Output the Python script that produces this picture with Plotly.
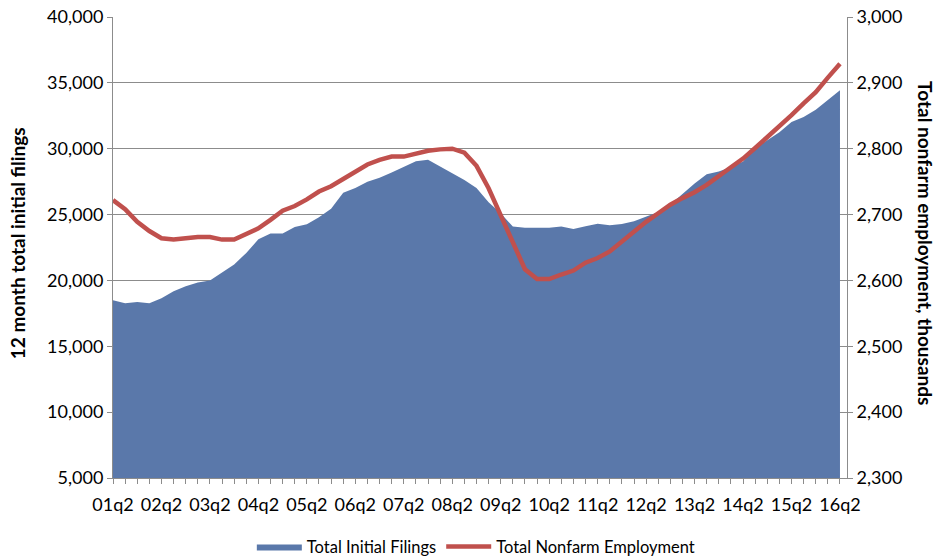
import plotly.graph_objects as go

# Quarters 01q2 .. 16q2
quarters = []
y, q = 1, 2
while (y, q) <= (16, 2):
    quarters.append(f"{y:02d}q{q}")
    q += 1
    if q > 4:
        q = 1
        y += 1

initial_filings = [
    18490, 18260, 18360, 18260, 18640, 19170, 19550, 19850, 20000, 20580,
    21210, 22090, 23130, 23560, 23560, 24060, 24260, 24800, 25440, 26650,
    27010, 27500, 27800, 28200, 28590, 29040, 29170, 28660, 28130, 27630,
    27020, 25930, 25100, 24090, 23990, 23990, 23990, 24090, 23910, 24120,
    24310, 24180, 24290, 24490, 24820, 25200, 25770, 26580, 27350, 28060,
    28270, 28620, 29030, 30030, 30660, 31250, 32020, 32400, 32960, 33670,
    34440,
]

nonfarm_employment = [
    2722, 2708, 2689, 2675, 2664, 2662, 2664, 2666, 2666, 2662,
    2662, 2670, 2679, 2692, 2706, 2713, 2723, 2735, 2743, 2754,
    2766, 2776, 2783, 2788, 2788, 2793, 2797, 2799, 2800, 2794,
    2774, 2740, 2698, 2656, 2617, 2602, 2602, 2609, 2615, 2627,
    2634, 2644, 2659, 2675, 2689, 2702, 2715, 2725, 2734, 2745,
    2758, 2772, 2785, 2801, 2817, 2835, 2851, 2869, 2886, 2908,
    2929,
]

tick_text = [qq if i % 4 == 0 else "" for i, qq in enumerate(quarters)]

left_title = "12 month total initial filings"
right_title = "Total nonfarm employment, thousands"

FONT = "Lato"
GRID = "#8c8c8c"

fig = go.Figure()
fig.add_trace(go.Scatter(
    x=quarters, y=initial_filings, name="Total Initial Filings",
    mode="lines", fill="tozeroy", line=dict(color="#5A78AA", width=0),
    fillcolor="#5A78AA", yaxis="y",
))
fig.add_trace(go.Scatter(
    x=quarters, y=nonfarm_employment, name="Total Nonfarm Employment",
    mode="lines", line=dict(color="#C0504D", width=4.5), yaxis="y2",
))

fig.update_layout(
    width=936, height=558,
    margin=dict(l=113, r=89, t=17, b=80, autoexpand=False),
    paper_bgcolor="white", plot_bgcolor="white",
    font=dict(family=FONT, size=18, color="black"),
    showlegend=True,
    legend=dict(
        orientation="h", x=0.495, xanchor="center", y=0.02, yanchor="middle",
        yref="container", font=dict(size=16.5, family=FONT), itemwidth=45,
        traceorder="normal",
    ),
    xaxis=dict(
        type="category", categoryorder="array", categoryarray=quarters,
        range=[0, 60.58], tickvals=quarters, ticktext=tick_text,
        ticks="outside", ticklen=5, tickcolor=GRID, showgrid=False,
        showline=True, linecolor=GRID, linewidth=1, zeroline=False,
        tickangle=0, ticklabelstandoff=5, tickfont=dict(size=18),
        automargin=False,
    ),
    yaxis=dict(
        range=[5000, 40000], dtick=5000, tickformat=",",
        showgrid=True, gridcolor=GRID, gridwidth=1,
        showline=True, linecolor=GRID, linewidth=1,
        ticks="outside", ticklen=5, tickcolor=GRID, zeroline=False,
        automargin=False,
    ),
    yaxis2=dict(
        range=[2300, 3000], dtick=100, tickformat=",",
        overlaying="y", side="right", showgrid=False,
        showline=True, linecolor=GRID, linewidth=1,
        ticks="outside", ticklen=5, tickcolor=GRID, zeroline=False,
        automargin=False,
    ),
    annotations=[
        dict(text=f"<b>{left_title}</b>", textangle=-90, xref="paper", yref="paper",
             x=-0.129, y=0.51, xanchor="center", yanchor="middle", showarrow=False,
             font=dict(size=19, family=FONT)),
        dict(text=f"<b>{right_title}</b>", textangle=90, xref="paper", yref="paper",
             x=1.106, y=0.51, xanchor="center", yanchor="middle", showarrow=False,
             font=dict(size=19, family=FONT)),
    ],
)

fig.write_html("out.html", config={"displayModeBar": False},
               post_script="document.body.style.margin='0';")
